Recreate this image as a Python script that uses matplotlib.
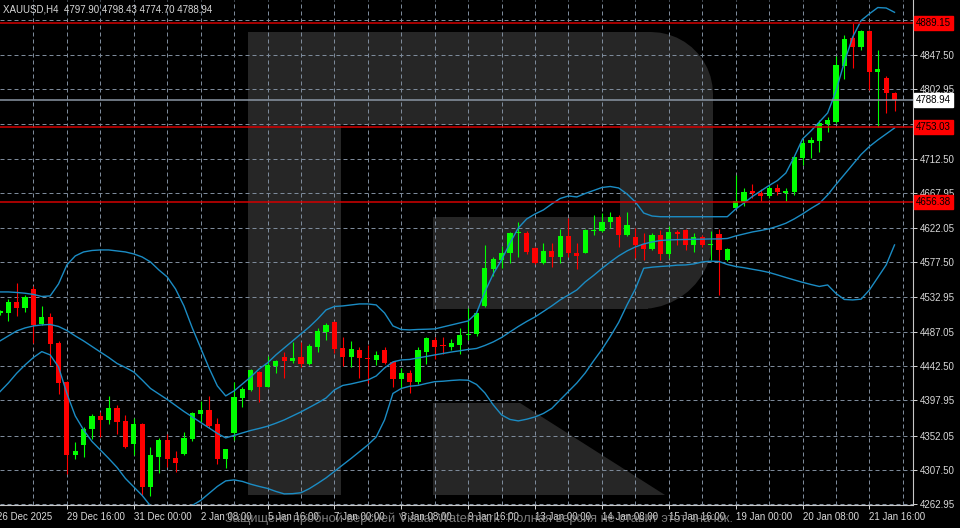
import matplotlib
matplotlib.use("Agg")
import matplotlib.pyplot as plt
from matplotlib.patches import Rectangle, Polygon
import numpy as np

# XAUUSD H4, 26 Dec 2025 08:00 .. 22 Jan 2026 04:00 (one value per bar)
opens = [4511.1, 4512.1, 4525.6, 4517.8, 4542.5, 4497.0, 4506.9, 4473.1, 4422.4, 4327.1,
         4340.1, 4360.5, 4377.8, 4372.6, 4388.6, 4371.3, 4341.4, 4367.4, 4285.8, 4324.9,
         4346.6, 4323.2, 4328.4, 4347.5, 4380.4, 4385.6, 4367.0, 4321.9, 4356.1, 4400.8,
         4411.6, 4435.4, 4415.9, 4443.2, 4454.9, 4449.7, 4454.1, 4445.4, 4467.9, 4487.4,
         4500.4, 4465.8, 4454.1, 4463.6, 4453.6, 4450.6, 4463.6, 4448.4, 4425.5, 4434.1,
         4422.4, 4461.4, 4476.6, 4469.7, 4467.9, 4470.1, 4482.7, 4484.0, 4520.8, 4568.5,
         4580.6, 4589.3, 4615.3, 4615.3, 4595.8, 4577.1, 4592.3, 4584.9, 4611.8, 4590.1,
         4590.1, 4618.7, 4618.7, 4629.6, 4636.1, 4613.1, 4610.9, 4601.0, 4594.5, 4613.1,
         4588.0, 4616.6, 4619.6, 4600.1, 4610.9, 4600.1, 4614.0, 4580.6, 4648.6, 4656.4,
         4670.3, 4667.4, 4664.2, 4674.6, 4668.1, 4669.4, 4713.6, 4732.4, 4735.4, 4757.1,
         4759.7, 4833.3, 4869.7, 4858.0, 4878.4, 4824.7, 4816.9, 4797.90]
highs = [4515.6, 4529.5, 4550.3, 4535.1, 4546.8, 4520.8, 4511.3, 4475.3, 4423.0, 4344.4,
         4363.9, 4380.0, 4383.4, 4404.2, 4392.1, 4379.1, 4374.8, 4368.3, 4337.9, 4348.8,
         4354.4, 4332.3, 4356.6, 4383.0, 4397.7, 4403.8, 4374.8, 4335.0, 4421.6, 4415.9,
         4438.9, 4436.7, 4456.2, 4450.6, 4461.4, 4474.4, 4474.4, 4471.0, 4491.8, 4498.3,
         4501.0, 4480.9, 4475.7, 4467.9, 4470.1, 4462.7, 4467.9, 4449.7, 4439.8, 4437.6,
         4467.9, 4480.9, 4480.9, 4480.1, 4477.5, 4491.8, 4517.8, 4512.0, 4600.1, 4584.9,
         4598.8, 4617.4, 4630.4, 4618.7, 4597.9, 4602.3, 4602.3, 4620.5, 4634.8, 4602.3,
         4620.5, 4639.1, 4641.3, 4642.6, 4639.1, 4642.6, 4621.8, 4615.3, 4615.3, 4619.6,
         4625.2, 4619.6, 4620.9, 4615.3, 4613.1, 4618.3, 4620.9, 4596.6, 4691.1, 4673.9,
         4679.1, 4672.9, 4678.1, 4679.1, 4674.6, 4716.2, 4736.7, 4740.9, 4762.7, 4767.0,
         4846.3, 4873.2, 4889.15, 4879.7, 4879.7, 4853.7, 4820.3, 4798.43]
lows = [4509.1, 4501.7, 4508.2, 4513.4, 4472.3, 4496.1, 4444.1, 4406.4, 4302.4, 4321.9,
        4324.1, 4347.9, 4350.1, 4367.4, 4354.4, 4335.8, 4327.1, 4275.1, 4274.1, 4303.3,
        4311.9, 4304.6, 4327.1, 4345.7, 4370.4, 4361.8, 4315.4, 4309.8, 4346.6, 4389.1,
        4410.7, 4396.4, 4415.1, 4433.3, 4426.8, 4447.3, 4441.9, 4444.1, 4461.4, 4476.6,
        4459.3, 4442.8, 4441.1, 4426.8, 4420.3, 4444.1, 4445.4, 4415.1, 4413.8, 4408.1,
        4419.4, 4445.4, 4451.5, 4458.4, 4463.6, 4458.4, 4476.6, 4482.2, 4519.9, 4559.8,
        4569.8, 4577.1, 4584.9, 4588.4, 4575.4, 4575.4, 4571.9, 4576.3, 4584.9, 4568.5,
        4589.3, 4613.1, 4617.4, 4621.8, 4597.9, 4612.2, 4582.8, 4580.6, 4593.6, 4580.6,
        4582.8, 4600.1, 4593.6, 4590.6, 4597.9, 4580.6, 4535.1, 4579.7, 4647.9, 4651.2,
        4660.9, 4657.3, 4660.9, 4665.1, 4657.7, 4665.1, 4704.2, 4713.6, 4721.4, 4746.7,
        4758.4, 4816.0, 4830.7, 4853.7, 4801.7, 4753.03, 4771.4, 4774.70]
closes = [4513.7, 4526.4, 4517.8, 4532.9, 4496.1, 4506.9, 4471.4, 4421.1, 4327.1, 4332.7,
          4360.9, 4378.2, 4372.6, 4388.6, 4370.0, 4337.9, 4367.4, 4285.8, 4326.7, 4346.6,
          4321.9, 4317.1, 4348.8, 4382.1, 4385.6, 4364.8, 4321.9, 4334.5, 4402.1, 4412.9,
          4437.6, 4415.1, 4444.1, 4449.7, 4449.7, 4453.6, 4445.4, 4469.2, 4488.7, 4496.1,
          4464.9, 4454.1, 4464.5, 4452.8, 4451.5, 4457.1, 4446.3, 4425.5, 4434.1, 4422.4,
          4463.6, 4478.8, 4467.9, 4468.4, 4472.3, 4483.1, 4484.4, 4511.3, 4570.6, 4581.9,
          4589.3, 4615.3, 4617.0, 4591.4, 4577.1, 4592.3, 4584.9, 4611.8, 4590.1, 4585.8,
          4619.6, 4619.6, 4630.4, 4636.1, 4613.1, 4626.1, 4600.1, 4594.5, 4613.1, 4588.0,
          4616.6, 4614.0, 4600.1, 4610.9, 4600.1, 4601.4, 4593.6, 4594.9, 4657.3, 4669.4,
          4667.4, 4664.2, 4674.6, 4669.4, 4670.7, 4714.9, 4733.1, 4736.7, 4758.4, 4762.7,
          4834.2, 4868.0, 4858.0, 4878.4, 4825.5, 4829.0, 4797.5, 4788.94]

# Bollinger bands, one value per bar
bb_upper = [4539.1, 4539.1, 4538.4, 4537.4, 4535.8, 4533.2, 4533.9, 4549.5, 4574.2, 4585.9,
            4591.1, 4593.0, 4593.7, 4593.7, 4592.4, 4591.1, 4588.5, 4584.6, 4578.1, 4567.7,
            4558.6, 4542.9, 4520.9, 4492.3, 4466.3, 4440.3, 4416.9, 4403.9, 4410.4, 4419.5,
            4428.6, 4439.0, 4446.8, 4457.2, 4466.3, 4475.4, 4484.5, 4493.6, 4504.0, 4515.7,
            4520.2, 4520.9, 4522.2, 4523.5, 4523.5, 4522.2, 4511.7, 4494.9, 4490.3, 4489.7,
            4490.3, 4490.6, 4491.0, 4493.6, 4496.2, 4498.8, 4501.4, 4511.7, 4539.1, 4562.5,
            4580.7, 4602.7, 4622.3, 4634.0, 4640.5, 4645.7, 4653.5, 4660.6, 4663.9, 4662.6,
            4667.1, 4671.0, 4674.9, 4676.2, 4674.3, 4666.5, 4656.1, 4641.7, 4637.8, 4636.9,
            4636.9, 4636.9, 4636.9, 4636.9, 4636.9, 4636.9, 4636.9, 4636.9, 4646.9, 4654.8,
            4663.2, 4670.4, 4677.5, 4684.0, 4693.7, 4714.6, 4738.0, 4748.4, 4760.0, 4771.8,
            4800.4, 4838.0, 4870.6, 4892.0, 4900.8, 4908.9, 4908.3, 4902.7]
bb_middle = [4475.4, 4481.9, 4488.4, 4492.3, 4494.9, 4496.2, 4496.8, 4494.2, 4489.0, 4481.9,
             4475.4, 4468.2, 4461.0, 4453.9, 4446.1, 4440.9, 4435.0, 4424.6, 4413.6, 4406.4,
             4399.3, 4391.5, 4383.7, 4376.6, 4369.4, 4362.3, 4355.1, 4349.3, 4352.5, 4355.8,
             4359.0, 4361.6, 4364.5, 4368.4, 4372.7, 4377.9, 4383.1, 4388.9, 4394.8, 4401.2,
             4411.7, 4417.5, 4419.5, 4422.0, 4424.6, 4429.8, 4440.3, 4448.1, 4450.7, 4451.3,
             4453.3, 4455.2, 4457.2, 4459.1, 4461.0, 4462.6, 4464.3, 4465.6, 4469.5, 4474.1,
             4479.9, 4487.1, 4494.2, 4500.7, 4506.6, 4513.7, 4520.9, 4528.7, 4535.2, 4541.7,
             4552.1, 4560.5, 4569.6, 4578.1, 4585.9, 4592.4, 4597.6, 4601.5, 4604.1, 4606.0,
             4606.7, 4607.1, 4607.3, 4607.6, 4607.7, 4608.0, 4608.0, 4608.6, 4611.9, 4614.5,
             4617.1, 4619.0, 4621.2, 4624.5, 4628.4, 4634.0, 4640.5, 4647.6, 4654.1, 4665.2,
             4678.8, 4691.8, 4704.8, 4717.8, 4728.2, 4736.7, 4744.5, 4752.3]
bb_lower = [4409.4, 4420.7, 4433.4, 4444.2, 4453.9, 4461.5, 4457.2, 4441.6, 4407.1, 4377.9,
            4359.7, 4344.7, 4333.7, 4322.6, 4310.9, 4296.6, 4285.6, 4274.5, 4260.9, 4252.4,
            4249.8, 4249.2, 4255.0, 4261.5, 4268.0, 4277.1, 4286.2, 4293.4, 4294.7, 4292.7,
            4289.1, 4286.2, 4283.6, 4279.7, 4276.5, 4276.8, 4278.0, 4283.3, 4290.1, 4297.3,
            4305.7, 4314.2, 4322.6, 4331.4, 4340.2, 4350.5, 4372.7, 4407.1, 4413.6, 4416.5,
            4417.5, 4420.1, 4422.4, 4423.0, 4424.0, 4424.7, 4424.3, 4418.8, 4407.8, 4392.2,
            4379.2, 4373.3, 4371.4, 4373.6, 4376.6, 4381.1, 4387.6, 4398.7, 4409.7, 4420.7,
            4433.7, 4449.4, 4464.3, 4481.2, 4499.4, 4522.2, 4542.9, 4569.9, 4571.3, 4572.2,
            4572.9, 4573.9, 4574.2, 4575.5, 4578.1, 4579.1, 4578.7, 4574.8, 4572.2, 4570.6,
            4568.6, 4566.7, 4564.4, 4561.2, 4557.9, 4554.7, 4551.6, 4548.8, 4546.2, 4548.2,
            4537.1, 4529.3, 4528.7, 4529.7, 4541.7, 4557.9, 4574.2, 4600.2]

date_labels = ["29 Dec 16:00", "31 Dec 00:00", "2 Jan 08:00", "5 Jan 16:00", "7 Jan 00:00",
               "8 Jan 08:00", "9 Jan 16:00", "13 Jan 00:00", "14 Jan 08:00", "15 Jan 16:00",
               "19 Jan 00:00", "20 Jan 08:00", "21 Jan 16:00"]
date_label_bars = [8, 16, 24, 32, 40, 48, 56, 64, 72, 80, 88, 96, 104]
first_date = "26 Dec 2025"

price_ticks = [4262.95, 4307.50, 4352.05, 4397.95, 4442.50, 4487.05, 4532.95, 4577.50,
               4622.05, 4667.95, 4712.50, 4757.05, 4802.95, 4847.50, 4892.05]
hidden_ticks = [4757.05, 4892.05]
level_lines = [4889.15, 4753.03, 4656.38]
last_price = 4788.94
title = "XAUUSD,H4  4797.90 4798.43 4774.70 4788.94"
trial_note = "Защищено пробной версией Visual Watermark. Полная версия не ставит этот значок."

# ---- layout ----
W, H, DPI = 960, 528, 100
PLOT_W, PLOT_H = 913, 505
PX_PER_BAR = 8.36
FONT = "Liberation Sans"
BULL, BEAR = "#00ff00", "#ff0000"
BAND = "#1b8cc4"
GRID = "#7d8a9a"
LOGO = "#262626"
TXT = "#d8d8d8"

fig = plt.figure(figsize=(W / DPI, H / DPI), dpi=DPI, facecolor="black")
ax = fig.add_axes([0, (H - PLOT_H) / H, PLOT_W / W, PLOT_H / H])
ax.set_facecolor("black")
ax.set_xlim(0, PLOT_W / PX_PER_BAR)
ax.set_ylim(4262.05, 4918.7)


def inch(px, py):
    # pixel position (top-left origin) -> figure inches
    return px / DPI, (H - py) / DPI


def rounded_right(x0, x1, y0, y1, r_top, r_bot):
    # outline of the right half of the "R" bowl, in pixels
    pts = [(x0, y0)]
    for t in np.linspace(np.pi / 2, 0, 12):
        pts.append((x1 - r_top + r_top * np.cos(t), y0 + r_top - r_top * np.sin(t)))
    for t in np.linspace(0, -np.pi / 2, 12):
        pts.append((x1 - r_bot + r_bot * np.cos(t), y1 - r_bot - r_bot * np.sin(t)))
    pts.append((x0, y1))
    return [inch(px, py) for px, py in pts]


# watermark "R" logo behind the chart
logo_kw = dict(facecolor=LOGO, edgecolor="none", zorder=0.5, transform=fig.dpi_scale_trans)
ax.add_patch(Rectangle(inch(248, 495), 93 / DPI, 463 / DPI, **logo_kw))
ax.add_patch(Rectangle(inch(248, 125), 400 / DPI, 93 / DPI, **logo_kw))
ax.add_patch(Rectangle(inch(433, 309), 215 / DPI, 92 / DPI, **logo_kw))
ax.add_patch(Polygon(rounded_right(620, 713, 32, 309, 62, 72), closed=True, **logo_kw))
ax.add_patch(Polygon([inch(433, 403), inch(520, 403), inch(665, 495), inch(433, 495)],
                     closed=True, **logo_kw))

# grid via ticks
ax.yaxis.tick_right()
ax.set_yticks(price_ticks)
ax.set_yticklabels(["" if p in hidden_ticks else f"{p:.2f}" for p in price_ticks])
ax.set_xticks(date_label_bars)
ax.set_xticklabels(date_labels, ha="left")
ax.set_xticks(np.arange(4, 109, 4), minor=True)
ax.tick_params(axis="y", colors=TXT, length=3, width=0.7, pad=2, labelsize=7,
               labelfontfamily=FONT)
ax.tick_params(axis="x", which="major", colors=TXT, length=3, width=0.7, pad=2,
               labelsize=7, labelfontfamily=FONT)
ax.tick_params(axis="x", which="minor", length=0)
ax.grid(True, which="both", color=GRID, lw=0.72, linestyle=(0, (4, 3)), zorder=1)
ax.set_axisbelow(True)
for s in ["left", "top"]:
    ax.spines[s].set_visible(False)
for s in ["right", "bottom"]:
    ax.spines[s].set_color("#c8c8c8")
    ax.spines[s].set_linewidth(0.8)

ax.text(-0.003, -0.014, first_date, transform=ax.transAxes, ha="left", va="top",
        color=TXT, fontsize=7, family=FONT)

# candles
o = np.array(opens)
c = np.array(closes)
x = np.arange(len(c))
col = np.where(c >= o, BULL, BEAR)
ax.vlines(x, lows, highs, colors=col, lw=0.8, zorder=3)
ax.bar(x, np.maximum(np.abs(c - o), 1.0), bottom=np.minimum(o, c), width=0.62,
       color=col, lw=0, zorder=4)

# bollinger bands
for band in (bb_upper, bb_middle, bb_lower):
    ax.plot(x, band, color=BAND, lw=1.0, zorder=5)

# levels and current price
for lvl in level_lines:
    ax.axhline(lvl, color="#d40000", lw=1.1, zorder=6)
ax.axhline(last_price, color="#8a96a4", lw=1.1, zorder=6)

ytrans = ax.get_yaxis_transform()
for lvl in level_lines:
    ax.text(1.003, lvl, f"{lvl:.2f}", transform=ytrans, ha="left", va="center",
            fontsize=7, family=FONT, color="black", clip_on=False, zorder=10,
            bbox=dict(boxstyle="square,pad=0.2", fc="#ff0000", ec="#ff0000"))
ax.text(1.003, last_price, f"{last_price:.2f}", transform=ytrans, ha="left", va="center",
        fontsize=7, family=FONT, color="black", clip_on=False, zorder=10,
        bbox=dict(boxstyle="square,pad=0.2", fc="white", ec="white"))

fig.text(3 / W, 1 - 4 / H, title, ha="left", va="top", color=TXT, fontsize=7, family=FONT)
fig.text(225 / W, 1 - 519 / H, trial_note, ha="left", va="center", color="#9a9a9a",
         alpha=0.8, fontsize=9.3, family=FONT)

fig.savefig("out.png", dpi=DPI, facecolor="black")
